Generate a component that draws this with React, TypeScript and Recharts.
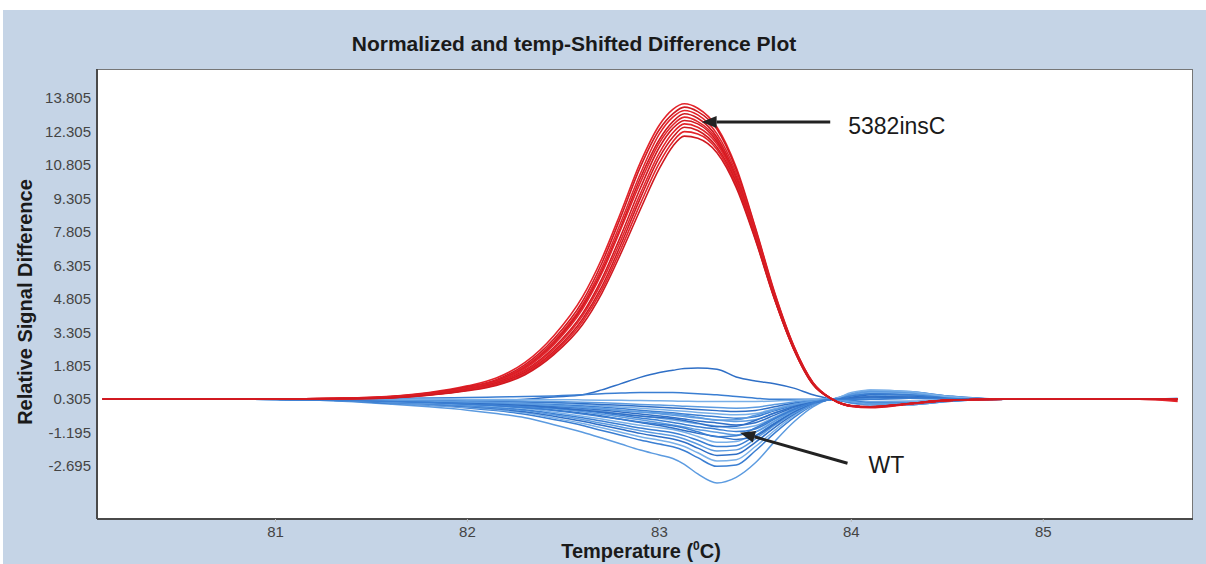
import React from 'react';
import { LineChart, Line, XAxis, YAxis, ReferenceArea, ReferenceLine } from 'recharts';

// Temperature grid (°C) shared by every curve
const temps = [80.1, 80.6, 81.0, 81.3, 81.6, 81.8, 82.0, 82.15, 82.3, 82.45, 82.6, 82.7, 82.8, 82.9, 83.0, 83.07, 83.13, 83.2, 83.3, 83.4, 83.5, 83.6, 83.7, 83.8, 83.9, 84.0, 84.1, 84.3, 84.5, 84.8, 85.2, 85.5, 85.7];

// 5382insC (red) curves
const red1 = [0.305, 0.305, 0.31, 0.34, 0.43, 0.60, 0.90, 1.25, 1.95, 3.15, 4.90, 6.60, 8.70, 10.9, 12.6, 13.3, 13.55, 13.35, 12.5, 10.7, 8.0, 5.1, 2.7, 1.05, 0.30, -0.02, -0.08, 0.08, 0.24, 0.30, 0.305, 0.305, 0.305];
const red2 = [0.305, 0.305, 0.31, 0.34, 0.42, 0.58, 0.86, 1.18, 1.85, 3.00, 4.70, 6.40, 8.50, 10.7, 12.4, 13.1, 13.4, 13.2, 12.4, 10.6, 7.95, 5.05, 2.68, 1.04, 0.30, -0.01, -0.06, 0.09, 0.25, 0.30, 0.305, 0.305, 0.305];
const red3 = [0.305, 0.305, 0.31, 0.33, 0.41, 0.56, 0.83, 1.14, 1.78, 2.90, 4.55, 6.20, 8.25, 10.4, 12.2, 12.95, 13.25, 13.05, 12.2, 10.45, 7.85, 5.0, 2.65, 1.02, 0.30, 0.0, -0.05, 0.10, 0.25, 0.30, 0.305, 0.305, 0.305];
const red4 = [0.305, 0.305, 0.31, 0.33, 0.40, 0.55, 0.81, 1.11, 1.72, 2.82, 4.45, 6.05, 8.05, 10.2, 11.95, 12.75, 13.1, 12.9, 12.05, 10.3, 7.75, 4.95, 2.62, 1.0, 0.30, 0.0, -0.05, 0.10, 0.25, 0.30, 0.305, 0.305, 0.25];
const red5 = [0.305, 0.305, 0.31, 0.33, 0.40, 0.54, 0.79, 1.08, 1.68, 2.75, 4.35, 5.95, 7.95, 10.0, 11.8, 12.6, 12.95, 12.75, 11.95, 10.2, 7.7, 4.9, 2.6, 1.0, 0.30, 0.02, -0.04, 0.11, 0.26, 0.30, 0.305, 0.305, 0.305];
const red6 = [0.305, 0.305, 0.31, 0.32, 0.38, 0.52, 0.76, 1.04, 1.60, 2.62, 4.15, 5.70, 7.65, 9.75, 11.6, 12.45, 12.8, 12.65, 11.85, 10.15, 7.65, 4.88, 2.6, 1.0, 0.30, 0.0, -0.05, 0.10, 0.25, 0.30, 0.305, 0.305, 0.305];
const red7 = [0.305, 0.305, 0.31, 0.32, 0.38, 0.51, 0.74, 1.01, 1.56, 2.55, 4.05, 5.55, 7.45, 9.5, 11.35, 12.25, 12.65, 12.5, 11.75, 10.1, 7.6, 4.85, 2.58, 0.98, 0.30, -0.01, -0.06, 0.09, 0.25, 0.30, 0.305, 0.305, 0.2];
const red8 = [0.305, 0.305, 0.31, 0.32, 0.37, 0.50, 0.72, 0.98, 1.50, 2.45, 3.90, 5.35, 7.25, 9.3, 11.15, 12.05, 12.5, 12.35, 11.6, 10.0, 7.55, 4.82, 2.56, 0.98, 0.30, 0.0, -0.05, 0.10, 0.25, 0.30, 0.305, 0.305, 0.305];
const red9 = [0.305, 0.305, 0.31, 0.32, 0.37, 0.49, 0.70, 0.95, 1.45, 2.38, 3.78, 5.2, 7.05, 9.05, 10.9, 11.85, 12.3, 12.2, 11.5, 9.9, 7.5, 4.8, 2.55, 0.97, 0.30, 0.0, -0.05, 0.10, 0.25, 0.30, 0.305, 0.305, 0.305];
const red10 = [0.305, 0.305, 0.31, 0.32, 0.36, 0.48, 0.68, 0.92, 1.40, 2.30, 3.65, 5.05, 6.85, 8.8, 10.65, 11.65, 12.1, 12.0, 11.35, 9.8, 7.45, 4.78, 2.54, 0.96, 0.30, 0.01, -0.04, 0.11, 0.26, 0.30, 0.305, 0.305, 0.305];

// WT (blue) curves
const blue0 = [0.305, 0.305, 0.30, 0.28, 0.25, 0.23, 0.22, 0.24, 0.30, 0.40, 0.50, 0.72, 1.0, 1.28, 1.5, 1.6, 1.68, 1.7, 1.65, 1.3, 1.12, 1.0, 0.8, 0.5, 0.3, 0.15, 0.05, 0.05, 0.2, 0.3, 0.305, 0.305, 0.305];
const blue1 = [0.305, 0.305, 0.29, 0.23, 0.08, -0.04, -0.19, -0.34, -0.53, -0.84, -1.18, -1.44, -1.71, -1.98, -2.20, -2.36, -2.62, -3.05, -3.45, -3.2, -2.55, -1.60, -0.72, -0.04, 0.30, 0.12, 0.05, 0.05, 0.2, 0.3, 0.305, 0.305, 0.305];
const blue2 = [0.305, 0.305, 0.29, 0.24, 0.12, 0.03, -0.09, -0.21, -0.37, -0.61, -0.88, -1.10, -1.31, -1.53, -1.71, -1.83, -2.01, -2.32, -2.71, -2.65, -2.01, -1.22, -0.52, 0.03, 0.30, 0.15, 0.10, 0.12, 0.22, 0.30, 0.305, 0.305, 0.305];
const blue3 = [0.305, 0.305, 0.29, 0.25, 0.14, 0.05, -0.06, -0.17, -0.31, -0.54, -0.79, -0.98, -1.18, -1.38, -1.54, -1.66, -1.82, -2.10, -2.47, -2.41, -1.82, -1.10, -0.45, 0.05, 0.30, 0.20, 0.15, 0.15, 0.25, 0.30, 0.305, 0.305, 0.305];
const blue4 = [0.305, 0.305, 0.29, 0.25, 0.15, 0.08, -0.03, -0.13, -0.26, -0.46, -0.69, -0.87, -1.05, -1.23, -1.38, -1.48, -1.63, -1.89, -2.22, -2.17, -1.63, -0.97, -0.38, 0.08, 0.30, 0.28, 0.30, 0.35, 0.32, 0.30, 0.305, 0.305, 0.305];
const blue5 = [0.305, 0.305, 0.29, 0.26, 0.16, 0.09, 0.0, -0.09, -0.21, -0.40, -0.61, -0.78, -0.94, -1.11, -1.25, -1.34, -1.48, -1.72, -2.02, -1.97, -1.48, -0.87, -0.33, 0.09, 0.30, 0.35, 0.45, 0.50, 0.38, 0.30, 0.305, 0.305, 0.305];
const blue6 = [0.305, 0.305, 0.30, 0.26, 0.18, 0.11, 0.03, -0.06, -0.17, -0.34, -0.53, -0.68, -0.83, -0.99, -1.11, -1.20, -1.33, -1.54, -1.82, -1.78, -1.33, -0.77, -0.28, 0.11, 0.30, 0.40, 0.55, 0.60, 0.42, 0.30, 0.305, 0.305, 0.305];
const blue7 = [0.305, 0.305, 0.30, 0.27, 0.19, 0.13, 0.05, -0.03, -0.12, -0.28, -0.46, -0.59, -0.73, -0.87, -0.98, -1.06, -1.18, -1.37, -1.63, -1.59, -1.18, -0.67, -0.22, 0.13, 0.30, 0.25, 0.20, 0.22, 0.28, 0.30, 0.305, 0.305, 0.305];
const blue8 = [0.305, 0.305, 0.305, 0.27, 0.22, 0.16, 0.09, 0.02, -0.07, -0.18, -0.33, -0.45, -0.60, -0.74, -0.88, -0.99, -1.10, -1.23, -1.37, -1.50, -1.35, -0.81, -0.27, 0.13, 0.30, 0.45, 0.60, 0.62, 0.45, 0.30, 0.305, 0.305, 0.305];
const blue9 = [0.305, 0.305, 0.305, 0.27, 0.23, 0.18, 0.11, 0.05, -0.03, -0.13, -0.26, -0.37, -0.50, -0.62, -0.75, -0.85, -0.94, -1.06, -1.18, -1.30, -1.17, -0.69, -0.21, 0.15, 0.30, 0.30, 0.35, 0.40, 0.33, 0.30, 0.305, 0.305, 0.305];
const blue10 = [0.305, 0.305, 0.305, 0.28, 0.23, 0.19, 0.13, 0.07, 0.0, -0.09, -0.20, -0.30, -0.42, -0.54, -0.65, -0.74, -0.83, -0.93, -1.04, -1.15, -1.03, -0.59, -0.16, 0.16, 0.30, 0.50, 0.62, 0.60, 0.42, 0.30, 0.305, 0.305, 0.305];
const blue11 = [0.305, 0.305, 0.305, 0.28, 0.24, 0.20, 0.15, 0.10, 0.03, -0.05, -0.15, -0.24, -0.35, -0.45, -0.55, -0.63, -0.71, -0.80, -0.90, -1.0, -0.89, -0.50, -0.11, 0.18, 0.30, 0.20, 0.10, 0.12, 0.25, 0.30, 0.305, 0.305, 0.305];
const blue12 = [0.305, 0.305, 0.305, 0.28, 0.25, 0.21, 0.17, 0.12, 0.06, -0.01, -0.10, -0.18, -0.27, -0.36, -0.45, -0.52, -0.59, -0.67, -0.76, -0.85, -0.75, -0.41, -0.06, 0.19, 0.30, 0.40, 0.50, 0.55, 0.40, 0.30, 0.305, 0.305, 0.305];
const blue13 = [0.305, 0.305, 0.305, 0.285, 0.255, 0.225, 0.185, 0.145, 0.095, 0.035, -0.045, -0.115, -0.195, -0.275, -0.355, -0.415, -0.475, -0.545, -0.625, -0.695, -0.615, -0.315, -0.015, 0.205, 0.30, 0.55, 0.70, 0.65, 0.45, 0.30, 0.305, 0.305, 0.305];
const blue14 = [0.305, 0.305, 0.305, 0.29, 0.26, 0.24, 0.20, 0.17, 0.13, 0.08, 0.01, -0.05, -0.12, -0.19, -0.26, -0.31, -0.36, -0.42, -0.49, -0.55, -0.48, -0.22, 0.03, 0.22, 0.30, 0.25, 0.15, 0.15, 0.25, 0.30, 0.305, 0.305, 0.305];
const blue15 = [0.305, 0.305, 0.305, 0.29, 0.27, 0.25, 0.22, 0.19, 0.16, 0.12, 0.06, 0.01, -0.05, -0.10, -0.16, -0.20, -0.24, -0.29, -0.35, -0.40, -0.34, -0.13, 0.08, 0.24, 0.30, 0.45, 0.60, 0.55, 0.40, 0.30, 0.305, 0.305, 0.305];
const blue16 = [0.305, 0.305, 0.305, 0.29, 0.28, 0.26, 0.24, 0.22, 0.19, 0.16, 0.11, 0.07, 0.03, -0.01, -0.06, -0.09, -0.12, -0.16, -0.21, -0.25, -0.20, -0.04, 0.13, 0.25, 0.30, 0.35, 0.40, 0.45, 0.35, 0.30, 0.305, 0.305, 0.305];
const blue17 = [0.305, 0.305, 0.305, 0.30, 0.29, 0.27, 0.26, 0.24, 0.22, 0.20, 0.17, 0.14, 0.11, 0.07, 0.04, 0.02, -0.01, -0.04, -0.07, -0.10, -0.06, 0.06, 0.18, 0.27, 0.30, 0.50, 0.65, 0.60, 0.40, 0.30, 0.305, 0.305, 0.35];
const blue18 = [0.305, 0.305, 0.31, 0.32, 0.34, 0.36, 0.38, 0.40, 0.42, 0.45, 0.50, 0.55, 0.58, 0.60, 0.60, 0.60, 0.58, 0.55, 0.50, 0.42, 0.35, 0.30, 0.30, 0.30, 0.30, 0.45, 0.55, 0.50, 0.38, 0.30, 0.305, 0.305, 0.305];
const blue19 = [0.305, 0.305, 0.305, 0.30, 0.30, 0.30, 0.29, 0.29, 0.28, 0.28, 0.27, 0.26, 0.25, 0.24, 0.23, 0.22, 0.21, 0.20, 0.20, 0.20, 0.20, 0.22, 0.26, 0.29, 0.30, 0.60, 0.72, 0.65, 0.42, 0.30, 0.305, 0.305, 0.305];
const blue20 = [0.305, 0.305, 0.30, 0.28, 0.23, 0.19, 0.14, 0.09, 0.03, -0.07, -0.18, -0.27, -0.36, -0.45, -0.52, -0.57, -0.65, -0.77, -0.93, -0.91, -0.65, -0.32, -0.03, 0.19, 0.30, 0.35, 0.40, 0.38, 0.32, 0.30, 0.305, 0.305, 0.305];
const blue21 = [0.305, 0.305, 0.30, 0.29, 0.25, 0.22, 0.18, 0.14, 0.10, 0.02, -0.07, -0.13, -0.20, -0.27, -0.32, -0.36, -0.42, -0.51, -0.64, -0.62, -0.42, -0.17, 0.05, 0.22, 0.30, 0.20, 0.12, 0.12, 0.25, 0.30, 0.305, 0.305, 0.305];
const blue22 = [0.305, 0.305, 0.30, 0.27, 0.20, 0.15, 0.08, 0.02, -0.07, -0.205, -0.36, -0.48, -0.60, -0.715, -0.82, -0.885, -0.99, -1.16, -1.38, -1.34, -0.99, -0.55, -0.15, 0.15, 0.30, 0.30, 0.30, 0.35, 0.32, 0.30, 0.305, 0.305, 0.305];

const redSeries = [red1, red2, red3, red4, red5, red6, red7, red8, red9, red10];
const blueSeries = [blue0, blue1, blue2, blue3, blue4, blue5, blue6, blue7, blue8, blue9, blue10, blue11, blue12, blue13, blue14, blue15, blue16, blue17, blue18, blue19, blue20, blue21, blue22];

// Axes
const xTicks = [81, 82, 83, 84, 85];
const yTicks = [13.805, 12.305, 10.805, 9.305, 7.805, 6.305, 4.805, 3.305, 1.805, 0.305, -1.195, -2.695];
const xDomain = [80.07, 85.78];
const yDomain = [-5.07, 15.11];

// Annotation arrows: [tail, tip] in data coordinates
const mutArrow = [{ x: 83.89, y: 12.73 }, { x: 83.22, y: 12.73 }];
const wtArrow = [{ x: 83.98, y: -2.57 }, { x: 83.42, y: -1.2 }];

const data = temps.map((t, i) => {
  const row: Record<string, number> = { t };
  blueSeries.forEach((s, k) => { row['b' + k] = s[i]; });
  redSeries.forEach((s, k) => { row['r' + k] = s[i]; });
  return row;
});

const blueColors = ['#2f6fc6', '#5c9be0', '#3a7ed2', '#78afe8'];
const redColors = ['#e3232a', '#cf1920'];

const makeArrow = (label: string, dx: number, dy: number) => (p: any) => {
  const { x1, y1, x2, y2 } = p;
  const ang = Math.atan2(y2 - y1, x2 - x1);
  const hl = 15;
  const hw = 6;
  const bx = x2 - hl * Math.cos(ang);
  const by = y2 - hl * Math.sin(ang);
  const px = -Math.sin(ang);
  const py = Math.cos(ang);
  return (
    <g>
      <line x1={x1} y1={y1} x2={bx} y2={by} stroke="#222" strokeWidth={3} />
      <polygon
        points={`${x2},${y2} ${bx + px * hw},${by + py * hw} ${bx - px * hw},${by - py * hw}`}
        fill="#222"
      />
      <text x={x1 + dx} y={y1 + dy} fontSize={23} fill="#1a1a1a" fontFamily='"Liberation Sans", Arial, sans-serif'>
        {label}
      </text>
    </g>
  );
};

export default function App() {
  return (
    <div
      style={{
        position: 'absolute',
        left: 0,
        top: 0,
        width: 1206,
        height: 564,
        background: '#ffffff',
        overflow: 'hidden',
        fontFamily: '"Liberation Sans", Arial, sans-serif',
      }}
    >
      <div style={{ position: 'absolute', left: 3, top: 10, width: 1203, height: 554, background: '#c5d4e6' }} />
      <div
        style={{
          position: 'absolute',
          left: 0,
          top: 32,
          width: 1148,
          textAlign: 'center',
          fontWeight: 'bold',
          fontSize: 21,
          color: '#1a1a1a',
        }}
      >
        Normalized and temp-Shifted Difference Plot
      </div>
      <div style={{ position: 'absolute', left: 0, top: 0 }}>
        <LineChart width={1206} height={564} data={data} margin={{ top: 69, right: 13, bottom: 15, left: 37 }}>
          <ReferenceArea
            x1={xDomain[0]}
            x2={xDomain[1]}
            y1={yDomain[0]}
            y2={yDomain[1]}
            fill="#ffffff"
            fillOpacity={1}
            stroke="#767676"
            strokeWidth={2}
            ifOverflow="hidden"
          />
          <XAxis
            dataKey="t"
            type="number"
            domain={xDomain}
            ticks={xTicks}
            allowDataOverflow
            height={30}
            tickSize={3}
            tickMargin={4}
            tickLine={{ stroke: '#bbbbbb' }}
            axisLine={{ stroke: '#4a4a4a', strokeWidth: 2 }}
            tick={{ fill: '#444', fontSize: 15 }}
            label={{
              content: (p: any) => {
                const vb = p.viewBox || { x: 97, width: 1096, y: 519 };
                const cx = vb.x + vb.width / 2 - 4;
                return (
                  <text x={cx} y={558} textAnchor="middle" fontSize={20} fontWeight="bold" fill="#1a1a1a">
                    Temperature (<tspan dy={-8} fontSize={12}>0</tspan><tspan dy={8}>C)</tspan>
                  </text>
                );
              },
            }}
          />
          <YAxis
            type="number"
            domain={yDomain}
            ticks={yTicks}
            allowDataOverflow
            interval={0}
            width={60}
            tickSize={4}
            tickMargin={2}
            tickLine={false}
            axisLine={{ stroke: '#4a4a4a', strokeWidth: 2 }}
            tick={{ fill: '#444', fontSize: 15 }}
            tickFormatter={(v: number) => v.toFixed(3)}
            label={{
              content: (p: any) => {
                const vb = p.viewBox || { y: 69, height: 450 };
                const cy = vb.y + vb.height / 2 + 8;
                return (
                  <text
                    x={32}
                    y={cy}
                    transform={`rotate(-90 32 ${cy})`}
                    textAnchor="middle"
                    fontSize={20}
                    fontWeight="bold"
                    fill="#1a1a1a"
                  >
                    Relative Signal Difference
                  </text>
                );
              },
            }}
          />
          {blueSeries.map((_, k) => (
            <Line
              key={'b' + k}
              dataKey={'b' + k}
              type="monotone"
              stroke={blueColors[k % blueColors.length]}
              strokeWidth={1.5}
              dot={false}
              isAnimationActive={false}
            />
          ))}
          {redSeries.map((_, k) => (
            <Line
              key={'r' + k}
              dataKey={'r' + k}
              type="monotone"
              stroke={redColors[k % redColors.length]}
              strokeWidth={1.6}
              dot={false}
              isAnimationActive={false}
            />
          ))}
          <ReferenceLine segment={mutArrow} shape={makeArrow('5382insC', 18, 12)} ifOverflow="visible" />
          <ReferenceLine segment={wtArrow} shape={makeArrow('WT', 21, 10)} ifOverflow="visible" />
        </LineChart>
      </div>
    </div>
  );
}
